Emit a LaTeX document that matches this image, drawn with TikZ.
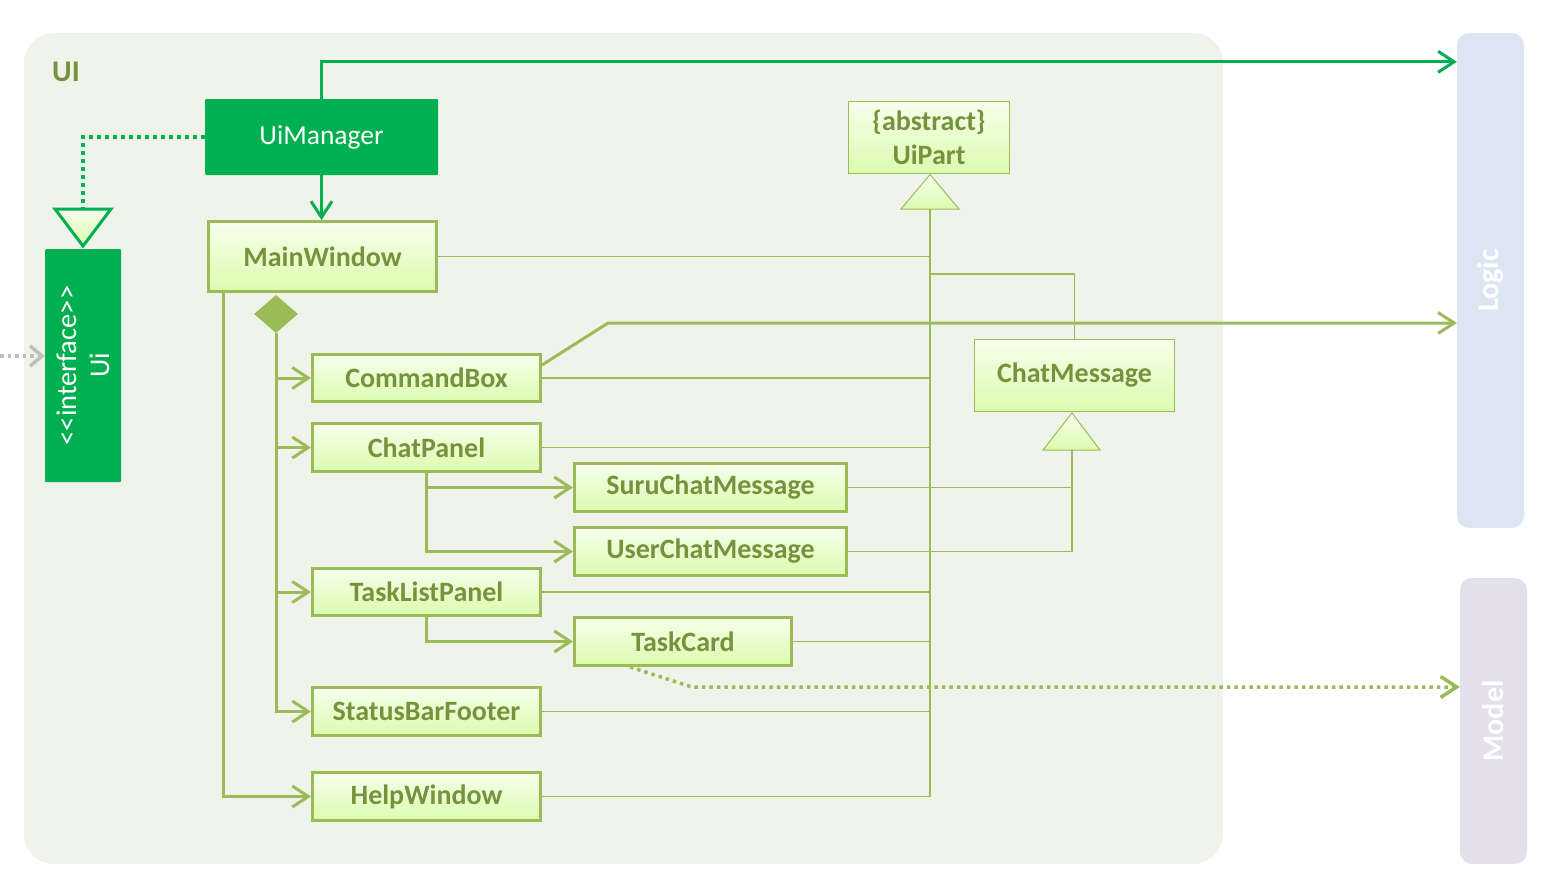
\documentclass[tikz,border=0pt]{standalone}
\usepackage{fontspec}
\setmainfont{Carlito}
\usetikzlibrary{arrows.meta,calc,shapes.geometric}
\definecolor{uigreen}{HTML}{00B050}
\definecolor{olive}{HTML}{9BBB59}
\definecolor{olivetext}{HTML}{76923C}
\definecolor{pkgfill}{HTML}{F0F3E9}
\definecolor{logicfill}{HTML}{DCE6F2}
\definecolor{modelfill}{HTML}{E4DFEC}
\definecolor{gradtop}{HTML}{F6FFEC}
\definecolor{gradbot}{HTML}{DCFBAE}
\definecolor{graydot}{HTML}{BFBFBF}
\begin{document}
\begin{tikzpicture}[x=1pt,y=-1pt,
  classbox/.style={draw=olive, line width=3pt, top color=gradtop, bottom color=gradbot,
    text=olivetext, font=\fontsize{28}{34}\selectfont\bfseries, inner sep=0pt},
  abstractbox/.style={classbox, line width=1pt},
  greenbox/.style={fill=uigreen, draw=none, text=white, inner sep=0pt, rounded corners=1pt,
    font=\fontsize{27.5}{33}\selectfont},
  layerbox/.style={draw=none, rounded corners=12pt, inner sep=0pt},
  layertext/.style={text=white, rotate=90, font=\fontsize{30}{34}\selectfont\bfseries, inner sep=0pt},
  greenarrow/.style={draw=uigreen, line width=3pt, -{Straight Barb[length=16pt,width=21pt]}},
  olivearrow/.style={draw=olive, line width=3pt, -{Straight Barb[length=16pt,width=21pt]}},
  greendotted/.style={draw=uigreen, line width=4pt, dash pattern=on 4pt off 4pt},
  olivedotted/.style={draw=olive, line width=3.5pt, dash pattern=on 3.5pt off 4pt, -{Straight Barb[length=16pt,width=21pt]}},
  graydotted/.style={draw=graydot, line width=3.5pt, dash pattern=on 3.5pt off 4pt, -{Straight Barb[length=12pt,width=20pt]}},
  thinline/.style={draw=olive, line width=1.2pt},
  trianglefill/.style={top color=gradtop, bottom color=gradbot}
]
\useasboundingbox (0,0) rectangle (1550,894);
% package and layers
\node[draw=none, fill=pkgfill, rounded corners=30pt, minimum width=1199pt, minimum height=831pt, inner sep=0pt] (pkg) at (623.5,448.5) {};
\node[text=olivetext, font=\fontsize{30}{34}\selectfont\bfseries, inner sep=0pt] (uilabel) at (66,72) {UI};
\node[layerbox, fill=logicfill, minimum width=67pt, minimum height=495pt] (logic) at (1490.5,280.5) {};
\node[layertext] (logiclabel) at (logic.center) {Logic};
\node[layerbox, fill=modelfill, minimum width=67pt, minimum height=286pt] (model) at (1493.5,721) {};
\node[layertext] (modellabel) at (model.center) {Model};

% green classes
\node[greenbox, minimum width=233pt, minimum height=76pt] (uim) at (321.5,137) {UiManager};
\node[greenbox, minimum width=76pt, minimum height=233pt] (ui) at (83,365.5) {};
\node[text=white, rotate=90, align=center, font=\fontsize{28.5}{33}\selectfont, inner sep=0pt] (uitext) at (ui.center) {<\kern0pt<interface>\kern0pt>\\Ui};

% class boxes
\node[classbox, minimum width=228pt, minimum height=70pt] (mw) at (322.5,256.5) {MainWindow};
\node[classbox, minimum width=228pt, minimum height=47pt] (cb) at (426.5,378) {CommandBox};
\node[classbox, minimum width=228pt, minimum height=48pt] (cp) at (426.5,447.5) {ChatPanel};
\node[classbox, minimum width=272pt, minimum height=48pt] (suru) at (710.5,487.5) {SuruChatMessage};
\node[classbox, minimum width=272pt, minimum height=48pt] (user) at (710.5,551.5) {UserChatMessage};
\node[classbox, minimum width=228pt, minimum height=47pt] (tlp) at (426.5,592) {TaskListPanel};
\node[classbox, minimum width=217pt, minimum height=48pt] (tc) at (683,641.5) {TaskCard};
\node[classbox, minimum width=228pt, minimum height=48pt] (sbf) at (426.5,711.5) {StatusBarFooter};
\node[classbox, minimum width=228pt, minimum height=48pt] (hw) at (426.5,796.5) {HelpWindow};
\node[abstractbox, minimum width=161pt, minimum height=72pt, align=center, font=\fontsize{28}{34}\selectfont\bfseries] (uipart) at (929,137.5) {\{abstract\}\\UiPart};
\node[abstractbox, minimum width=200pt, minimum height=72pt] (chatmsg) at (1074.5,375.5) {ChatMessage};

% generalization triangles
\coordinate (uitri) at (83,209);
\coordinate (upbase) at (930,209);
\coordinate (cmbase) at (1072,450);
\path[trianglefill, draw=uigreen, line width=3pt, line join=miter] (55,209) -- (111,209) -- (83,246) -- cycle;
\path[trianglefill, draw=olive, line width=1pt] (901,209) -- (959,209) -- (930,174.5) -- cycle;
\path[trianglefill, draw=olive, line width=1pt] (1043,450) -- (1100,450) -- (1072,413) -- cycle;

% diamond
\node[diamond, fill=olive, draw=none, minimum width=44pt, minimum height=38pt, inner sep=0pt] (dia) at (276,314) {};

% UiManager connectors
\draw[greenarrow] (uim.north) |- ([yshift=-29pt]logic.north west);
\draw[greenarrow] (uim.south) -- (uim.south |- mw.north);
\draw[greendotted] (uim.west) -| (uitri);

% composition
\draw[olivearrow] (dia.south) |- (cb.west);
\draw[olivearrow] (dia.south) |- (cp.west);
\draw[olivearrow] (dia.south) |- (tlp.west);
\draw[olivearrow] (dia.south) |- (sbf.west);
\draw[olivearrow] ([xshift=-99.5pt]mw.south) |- (hw.west);
\draw[olivearrow] (cp.south) |- (suru.west);
\draw[olivearrow] (cp.south) |- (user.west);
\draw[olivearrow] (tlp.south) |- (tc.west);

% inheritance to UiPart
\draw[thinline] (upbase) -- (upbase |- hw.east);
\draw[thinline] (mw.east) -- (mw.east -| upbase);
\draw[thinline] (cb.east) -- (cb.east -| upbase);
\draw[thinline] (cp.east) -- (cp.east -| upbase);
\draw[thinline] (tlp.east) -- (tlp.east -| upbase);
\draw[thinline] (tc.east) -- (tc.east -| upbase);
\draw[thinline] (sbf.east) -- (sbf.east -| upbase);
\draw[thinline] (hw.east) -- (hw.east -| upbase);
\coordinate (cmjoin) at (930,274);
\draw[thinline] (cmjoin) -| (chatmsg.north);

% inheritance to ChatMessage
\draw[thinline] (cmbase) |- (user.east);
\draw[thinline] (suru.east) -- (suru.east -| cmbase);

% dependencies to other layers
\coordinate (cbbend) at (608,323);
\draw[olivearrow] ([yshift=13pt]cb.east) -- (cbbend) -- (cbbend -| logic.west);
\coordinate (tcbend) at (692,687);
\draw[olivedotted] ([xshift=-53pt]tc.south) -- (tcbend) -- (tcbend -| model.west);
\coordinate (grayend) at (0,356);
\draw[graydotted] (grayend) -- (grayend -| ui.west);
\end{tikzpicture}
\end{document}
